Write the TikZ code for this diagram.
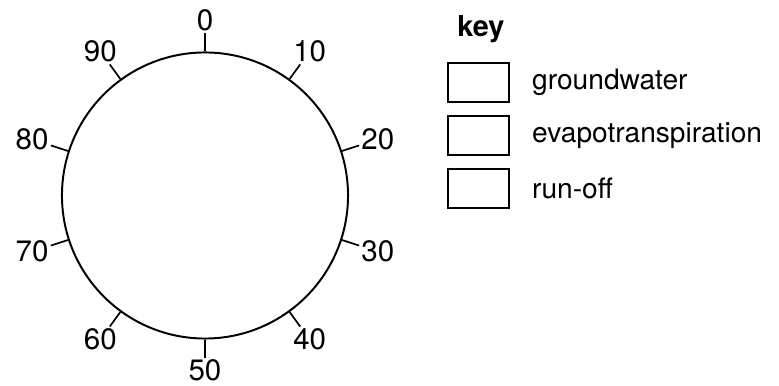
\documentclass[tikz,border=0pt]{standalone}
\usepackage{fontspec}
\setmainfont{TeX Gyre Heros}
\usetikzlibrary{positioning}

\begin{document}
\begin{tikzpicture}[
        x=0.025cm, y=0.025cm,
        dialtick/.style={line width=1.2pt},
        keybox/.style={rectangle, draw, line width=1.3pt, minimum width=1.525cm, minimum height=0.975cm, inner sep=0pt},
        keylabel/.style={anchor=west, inner sep=0pt, font=\fontsize{20}{24}\selectfont},
        font=\fontsize{21}{25}\selectfont
    ]
        \useasboundingbox (-205,-190.5) rectangle (574,195.5);

        % Dial
        \node[circle, draw, line width=1.4pt, minimum size=7.15cm, inner sep=0pt] (dial) at (0,0) {};
        \foreach \v [count=\i from 0] in {0,10,...,90} {
            \draw[dialtick] (dial.{90-36*\i}) -- ++({90-36*\i}:18) coordinate (end\v);
            \node[anchor={270-36*\i}, inner sep=1.5pt] (lab\v) at (end\v) {\v};
        }

        % Key
        \node[anchor=base west, inner sep=0pt, font=\fontsize{20.5}{24}\selectfont\bfseries] (key) at (252,158.5) {key};
        \node[keybox] (gw) at (273.5,113) {};
        \node[keybox, below=0.3cm of gw] (evap) {};
        \node[keybox, below=0.3cm of evap] (runoff) {};
        \node[keylabel, right=0.55cm of gw] (gwtext) {groundwater};
        \node[keylabel, right=0.55cm of evap] (evaptext) {evapotranspiration};
        \node[keylabel, right=0.55cm of runoff] (runofftext) {run-off};
    \end{tikzpicture}
\end{document}
